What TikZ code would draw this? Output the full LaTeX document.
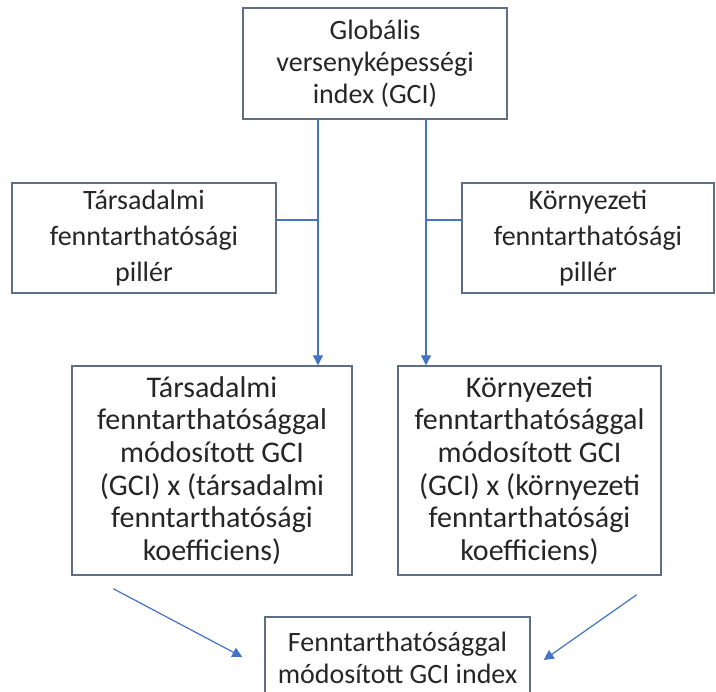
\documentclass[tikz,border=0pt]{standalone}
\usepackage{fontspec}
\setmainfont{Carlito}
\usepackage{tikz}
\usetikzlibrary{arrows.meta, positioning, calc}

\definecolor{boxline}{HTML}{5E6E86}
\definecolor{linkblue}{HTML}{4472C4}

\begin{document}
\begin{tikzpicture}[x=0.5pt, y=-0.5pt,
		box/.style={draw=boxline, line width=0.7pt, inner sep=0pt, align=center, text=black!85, font=\fontsize{14}{16}\selectfont},
		plain/.style={draw=linkblue, line width=0.6pt},
		link/.style={plain, -{Triangle[width=5pt, length=5pt]}}]
				\useasboundingbox (0,0) rectangle (716,691);
				\clip (0,0) rectangle (716,691);

				% Top box
				\node[box, minimum width=132pt, minimum height=55.5pt] (gci) at (375,63.5) {Globális\\versenyképességi\\index (GCI)};

				% Pillars
				\node[box, font=\fontsize{14}{18}\selectfont, minimum width=132pt, minimum height=55pt] (tpill) at (144,238) {Társadalmi\\fenntarthatósági\\pillér};
				\node[box, font=\fontsize{14}{18}\selectfont, minimum width=126pt, minimum height=55pt] (kpill) at (588,238) {Környezeti\\fenntarthatósági\\pillér};

				% Modified GCI boxes
				\node[box, font=\fontsize{15}{16.3}\selectfont, minimum width=140pt, minimum height=104.5pt] (tsgci) at (212,470.5) {Társadalmi\\fenntarthatósággal\\módosított GCI\\(GCI) x (társadalmi\\fenntarthatósági\\koefficiens)};
				\node[box, font=\fontsize{15}{16.3}\selectfont, minimum width=131.5pt, minimum height=104.5pt] (ksgci) at (529.5,470.5) {Környezeti\\fenntarthatósággal\\módosított GCI\\(GCI) x (környezeti\\fenntarthatósági\\koefficiens)};

				% Result box (cut by the lower edge)
				\node[box, minimum width=132.5pt, minimum height=41pt] (fgci) at (397.5,658) {Fenntarthatósággal\\módosított GCI index};

				% Connectors
				\coordinate (jl) at ($(gci.south)+(-57,0)$);
				\coordinate (jr) at ($(gci.south)+(51,0)$);
				\coordinate (tp) at ($(tpill.east)+(0,-18)$);
				\coordinate (kp) at ($(kpill.west)+(0,-18)$);
				\draw[link] (jl) -- (jl |- tsgci.north);
				\draw[link] (jr) -- (jr |- ksgci.north);
				\draw[plain] (tp) -- (tp -| jl);
				\draw[plain] (kp) -- (kp -| jr);
				\draw[link] ($(tsgci.south west)+(42,13)$) -- ($(fgci.west)+(-22,-1)$);
				\draw[link] ($(ksgci.south east)+(-25,19)$) -- ($(fgci.east)+(13,2)$);
			\end{tikzpicture}
\end{document}
